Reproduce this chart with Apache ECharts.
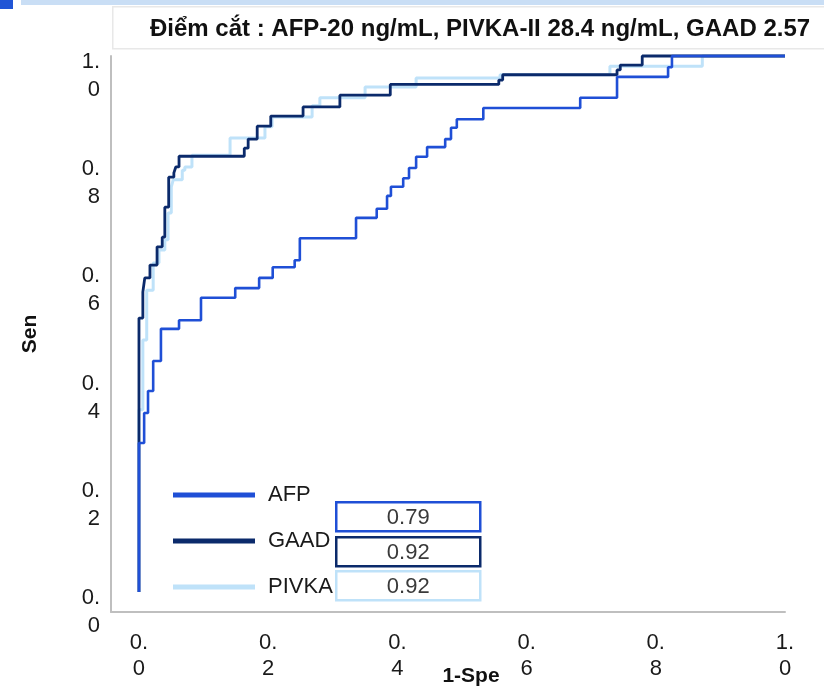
<!DOCTYPE html>
<html>
<head>
<meta charset="utf-8">
<style>
  html, body { margin: 0; padding: 0; background: #fff; }
  #main { width: 824px; height: 690px; }
</style>
</head>
<body>
<div id="main"></div>
<script src="https://cdn.jsdelivr.net/npm/echarts@6/dist/echarts.min.js"></script>
<script type="text/javascript">
    // 刻度
    var xTicks = [0, 0.2, 0.4, 0.6, 0.8, 1.0];
    var yTicks = [0, 0.2, 0.4, 0.6, 0.8, 1.0];

    // ROC 曲线 (1-Spe, Sen)
    var afpFpr = [0, 0, 0.008, 0.014, 0.022, 0.034, 0.062, 0.096, 0.149, 0.186, 0.207, 0.241, 0.249, 0.336, 0.368, 0.384, 0.390, 0.409, 0.418, 0.429, 0.446, 0.474, 0.483, 0.492, 0.533, 0.683, 0.740, 0.819, 0.825, 1.0];
    var afpTpr = [0, 0.278, 0.334, 0.375, 0.431, 0.491, 0.507, 0.549, 0.567, 0.586, 0.606, 0.619, 0.660, 0.698, 0.715, 0.739, 0.756, 0.772, 0.791, 0.812, 0.830, 0.845, 0.866, 0.882, 0.903, 0.922, 0.961, 0.979, 1.0, 1.0];

    var gaadFpr = [0, 0, 0.006, 0.009, 0.017, 0.028, 0.036, 0.040, 0.046, 0.054, 0.057, 0.062, 0.163, 0.169, 0.183, 0.204, 0.254, 0.311, 0.389, 0.557, 0.563, 0.740, 0.745, 0.779, 1.0];
    var gaadTpr = [0, 0.511, 0.560, 0.586, 0.610, 0.644, 0.662, 0.718, 0.774, 0.782, 0.793, 0.813, 0.828, 0.845, 0.869, 0.888, 0.905, 0.927, 0.947, 0.955, 0.965, 0.974, 0.983, 1.0, 1.0];

    var pivkaFpr = [0, 0, 0.006, 0.012, 0.022, 0.031, 0.040, 0.045, 0.050, 0.053, 0.067, 0.071, 0.082, 0.141, 0.195, 0.206, 0.268, 0.280, 0.350, 0.429, 0.559, 0.729, 0.872, 1.0];
    var pivkaTpr = [0, 0.340, 0.470, 0.563, 0.614, 0.638, 0.657, 0.707, 0.756, 0.769, 0.787, 0.793, 0.815, 0.847, 0.868, 0.886, 0.907, 0.922, 0.942, 0.959, 0.965, 0.981, 1.0, 1.0];

    // AUC
    var names = ['AFP', 'GAAD', 'PIVKA'];
    var aucValues = ['0.79', '0.92', '0.92'];
    var colors = ['#1f4fd6', '#0b2a6b', '#bfe2f9'];

    function pairs(xs, ys) {
        var out = [];
        for (var i = 0; i < xs.length; i++) out.push([xs[i], ys[i]]);
        return out;
    }
    function tickText(v) {
        return v.toFixed(1).replace('.', '.\n');
    }

    var FONT = 'Liberation Sans, Arial, sans-serif';
    var myChart = echarts.init(document.getElementById('main'));

    // AUC 方框
    var boxTops = [501, 536, 570];
    var aucGraphics = [];
    for (var i = 0; i < aucValues.length; i++) {
        aucGraphics.push({
            type: 'group',
            left: 335,
            top: boxTops[i],
            z: 100,
            children: [
                { type: 'rect', shape: { x: 0, y: 0, width: 144, height: 29 },
                  style: { fill: 'rgba(255,255,255,0)', stroke: colors[i], lineWidth: 2.5 } },
                { type: 'text', x: 72, y: 16,
                  style: { text: aucValues[i], fill: '#3a3a3a', font: '22px ' + FONT, align: 'center', verticalAlign: 'middle' } }
            ]
        });
    }

    var option = {
        animation: false,
        title: {
            text: 'Điểm cắt : AFP-20 ng/mL, PIVKA-II 28.4 ng/mL, GAAD 2.57',
            left: 150,
            top: 17,
            padding: 0,
            textStyle: { fontFamily: FONT, fontSize: 24, fontWeight: 'bold', color: '#111' }
        },
        graphic: [
            { type: 'rect', left: 0, top: 0, shape: { width: 13, height: 9 }, style: { fill: '#2155d6' } },
            { type: 'rect', left: 21, top: 0, shape: { width: 803, height: 5 }, style: { fill: '#c9def5' } },
            { type: 'rect', left: 112, top: 6, z: -1, shape: { width: 730, height: 42 },
              style: { fill: '#fff', stroke: '#e8e8e8', lineWidth: 1.5 } }
        ].concat(aucGraphics),
        legend: {
            data: names,
            orient: 'vertical',
            left: 173,
            top: 484,
            padding: 0,
            icon: 'rect',
            itemWidth: 82,
            itemHeight: 5,
            itemGap: 24,
            selectedMode: false,
            textStyle: { fontFamily: FONT, fontSize: 22, color: '#1a1a1a', lineHeight: 22, padding: [0, 0, 0, 8] }
        },
        grid: { left: 111, right: 39, top: 56, bottom: 78, outerBoundsMode: 'none' },
        xAxis: {
            type: 'value',
            min: -0.0433,
            max: 1.0,
            name: '1-Spe',
            nameLocation: 'middle',
            nameGap: 54,
            nameMoveOverlap: false,
            nameTextStyle: { fontFamily: FONT, fontSize: 21, fontWeight: 'bold', color: '#111', padding: [0, 0, 0, 46] },
            axisLine: { show: true, onZero: false, lineStyle: { color: '#bfbfbf', width: 2 } },
            axisTick: { show: false },
            splitLine: { show: false },
            axisLabel: {
                customValues: xTicks,
                formatter: tickText,
                margin: 18,
                lineHeight: 26,
                fontFamily: FONT,
                fontSize: 22,
                color: '#1a1a1a'
            }
        },
        yAxis: {
            type: 'value',
            min: -0.0373,
            max: 1.0,
            name: 'Sen',
            nameLocation: 'middle',
            nameGap: 70,
            nameMoveOverlap: false,
            nameTextStyle: { fontFamily: FONT, fontSize: 21, fontWeight: 'bold', color: '#111' },
            axisLine: { show: true, onZero: false, lineStyle: { color: '#bfbfbf', width: 2 } },
            axisTick: { show: false },
            splitLine: { show: false },
            axisLabel: {
                customValues: yTicks,
                formatter: function (v) { return '{pad| }\n' + tickText(v); },
                margin: 11,
                lineHeight: 28,
                verticalAlign: 'middle',
                fontFamily: FONT,
                fontSize: 22,
                color: '#1a1a1a',
                rich: { pad: { lineHeight: 40, fontSize: 10 } }
            }
        },
        series: [{
            name: 'PIVKA',
            type: 'line',
            step: 'end',
            symbol: 'none',
            clip: false,
            color: colors[2],
            lineStyle: { width: 3, color: colors[2] },
            data: pairs(pivkaFpr, pivkaTpr)
        }, {
            name: 'GAAD',
            type: 'line',
            step: 'end',
            symbol: 'none',
            clip: false,
            color: colors[1],
            lineStyle: { width: 2.8, color: colors[1] },
            data: pairs(gaadFpr, gaadTpr)
        }, {
            name: 'AFP',
            type: 'line',
            step: 'end',
            symbol: 'none',
            clip: false,
            color: colors[0],
            lineStyle: { width: 2.6, color: colors[0] },
            data: pairs(afpFpr, afpTpr)
        }]
    };

    myChart.setOption(option);
</script>
</body>
</html>
